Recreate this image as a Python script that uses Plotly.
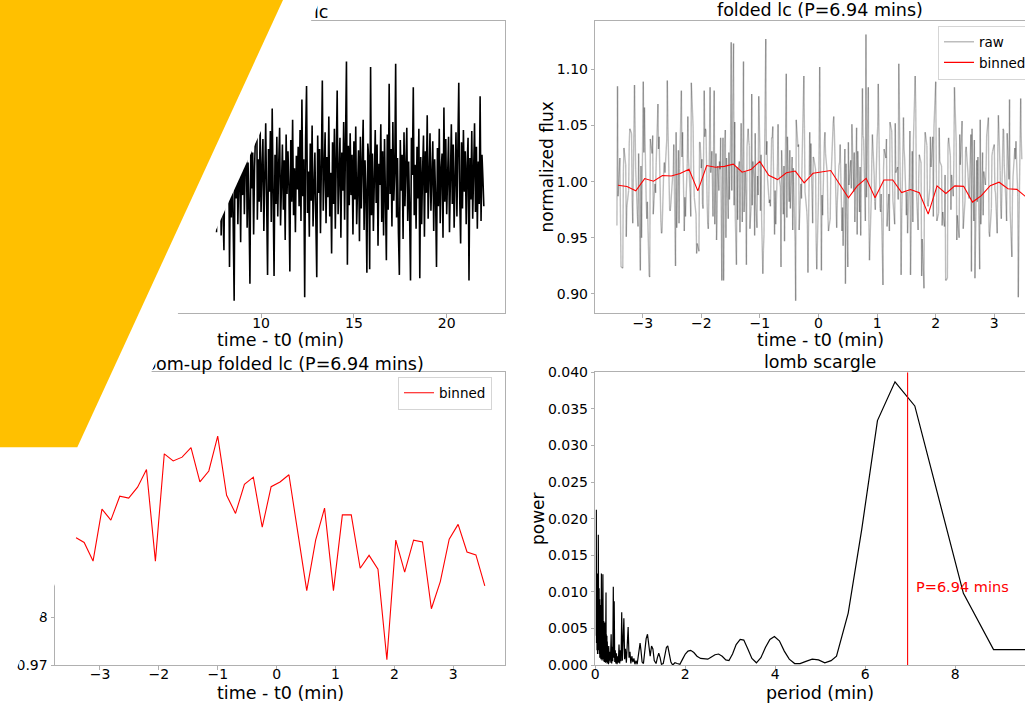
import numpy as np
import plotly.graph_objects as go

W, H = 1025, 705
FONT = "DejaVu Sans"
SPINE = "#b0b0b0"

# ---------------- data ----------------
period_best = 6.94      # min
t0_fold = 2.0           # min, fold reference time
time_step = 0.05        # min, cadence of the light curve

# raw light curve, (flux - 1) * 1000, one value per cadence starting at t = 0
raw_flux_dev = [
    12, 81, -20, 84, -31, 25, -8, -88, 34, -15, 41, 123, -74, 18, -36, 9, 47, -22, 3, -41,
    28, -82, 127, -12, 39, -47, 16, -5, -29, 96, -18, 22, -53, 31, -2, 94, -26, 44, -37, 11,
    -14, -79, 36, 7, -33, 52, -21, 15, -44, 29, -76, 19, -9, 48, -27, 83, -35, 84, -16, 6,
    38, -24, -92, 21, -11, 45, -38, 13, -19, 57, -30, 4, 27, 94, -43, 17, -95, 32, -6, 40,
    89, -28, 14, -40, -86, 23, -13, 35, -50, 54, -17, 8, 42, -35, 19, -78, 26, -3, 57, -24,
    33, -46, 10, 47, -20, 2, -67, 30, -12, 74, -39, 21, -77, 15, -8, 43, 86, -31, -79, 89,
    -18, -84, 25, -2, 69, -36, 12, 37, -25, 4, -75, 28, 81, -44, 16, -11, 49, -29, -62, 20,
    40, -37, 8, 31, -52, 18, -7, 46, -33, 124, -21, 13, -45, 27, -14, 36, 78, -48, 5, -26,
    -61, 24, -19, 39, -8, 51, -76, 14, -32, 28, -43, -106, 33, -15, 47, -38, 6, 22, -54, 30,
    -12, 44, -29, 9, 58, -41, 17, -23, -91, 35, -6, 26, -47, 13, 41, 131, -34, 20, -18, 49,
    -27, 11, 38, -44, 7, 52, -16, -83, 29, -9, 45, -36, 65, 3, -84, 24, -20, 40, -31, 15,
    48, -39, 6, 33, -25, 19, -52, 42, -11, 27, -4, -80, 37, -18, 55, -30, 12, -45, 23, -7,
    31, -22, 46, -35, 73, -13, 20, -103, 38, 85, -28, 9, -49, 34, -17, 50, -40, 14, 26, -33,
    -85, 41, -10, 29, -46, 17, 90, -26, 5, 44, -37, 22, -14, 58, -31, 8, -64, 35, -20, 47,
    -42, 15, 81, -29, 11, 39, -50, 26, -8, 53, -34, 18, 107, -74, 32, -21, 43, -12, 24, -47,
    36, -16, 49, -38, 7, 28, -53, 40, -24, 12, 55, -43, 19, -9, -81, 34, 21, -78, 102, -30,
    25, -44, 10, 46, -19, 33, -57, 16, -3, 51, -36, 27, -48, 38, -14, -70, 42, -25, 87, -11,
    29, -40, 53, -17, 8, 105, -32, 21, -46, -83, 37, -8, 24, -51, 44, -22, 13, 48, -35, 18,
    -27, -88, 39, 6, 84, -30, 15, -42, 31, -15, 47, -86, 22, -38, 9, 41, -49, 27, -10, 59,
    -33, 14, 43, -26, 5, 36, -44, 20, -13, -76, 30, -22, 47, -37, 11, 25, -50, 66, -18, 38,
    -29, 17, 40, -45, 8, 51, -20, 33, -41, 12, 44, -31, 22, 88, -14, -55, 35, -24, 46, -9,
    27, -38, 14, 39, -88, 21, -16, 45, -33, 10, 52, -27, 31, -42, 18, -20, 76, -35, 24, 3,
    -22,
]

# binned folded light curve
binned_phase_start = -3.42
binned_phase_step = 0.1512
binned_flux = [
    0.9968, 0.9957, 0.9918, 1.0027, 1.0004, 1.0054, 1.0050, 1.0073, 1.0110, 0.9918,
    1.0143, 1.0128, 1.0136, 1.0156, 1.0084, 1.0107, 1.0180, 1.0056, 1.0018, 1.0079,
    1.0094, 0.9989, 1.0074, 1.0084, 1.0099, 0.9976, 0.9856, 0.9962, 1.0029, 0.9856,
    1.0015, 1.0015, 0.9903, 0.9930, 0.9901, 0.9711, 0.9962, 0.9895, 0.9962, 0.9958,
    0.9818, 0.9875, 0.9964, 0.9995, 0.9937, 0.9931, 0.9866,
]

# Lomb-Scargle periodogram
ls_period = [
    0.020, 0.023, 0.026, 0.029, 0.032, 0.035, 0.038, 0.041, 0.044, 0.047,
    0.050, 0.053, 0.056, 0.059, 0.062, 0.065, 0.067, 0.070, 0.073, 0.076,
    0.079, 0.082, 0.085, 0.088, 0.091, 0.094, 0.097, 0.100, 0.103, 0.106,
    0.109, 0.112, 0.115, 0.118, 0.121, 0.124, 0.127, 0.130, 0.133, 0.136,
    0.139, 0.142, 0.145, 0.148, 0.151, 0.154, 0.157, 0.160, 0.163, 0.166,
    0.169, 0.172, 0.175, 0.178, 0.181, 0.184, 0.187, 0.190, 0.193, 0.196,
    0.199, 0.202, 0.205, 0.208, 0.211, 0.214, 0.217, 0.220, 0.223, 0.226,
    0.229, 0.232, 0.235, 0.238, 0.241, 0.244, 0.247, 0.250, 0.254, 0.258,
    0.262, 0.266, 0.270, 0.274, 0.278, 0.282, 0.286, 0.290, 0.294, 0.298,
    0.310, 0.320, 0.330, 0.340, 0.352, 0.364, 0.376, 0.388, 0.400,
    0.410, 0.420, 0.432, 0.444, 0.456, 0.470, 0.484, 0.498, 0.512, 0.527,
    0.542, 0.558, 0.572, 0.587, 0.602, 0.618, 0.635, 0.652, 0.670, 0.690,
    0.710, 0.730, 0.750, 0.770, 0.790, 0.812, 0.835, 0.858, 0.880, 0.905,
    0.930, 0.955, 0.975, 0.995, 1.015, 1.04, 1.07, 1.10, 1.13, 1.16,
    1.19, 1.22, 1.25, 1.28, 1.31, 1.35, 1.38, 1.41, 1.44, 1.47,
    1.51, 1.55, 1.58, 1.61, 1.64, 1.68, 1.72, 1.77, 1.82, 1.88,
    1.94, 2.00, 2.06, 2.12, 2.19, 2.26, 2.34, 2.42, 2.50, 2.58,
    2.66, 2.74, 2.82, 2.90, 2.97, 3.05, 3.13, 3.22, 3.30, 3.39,
    3.48, 3.58, 3.68, 3.78, 3.88, 3.98, 4.09, 4.20, 4.31, 4.43,
    4.55, 4.68, 4.82, 4.96, 5.10, 5.24, 5.36, 5.62, 5.92, 6.27,
    6.66, 7.10, 7.60, 8.18, 8.85, 9.70,
]
ls_power = [
    0.0040, 0.0212, 0.0030, 0.0150, 0.0045, 0.0110, 0.0020, 0.0125, 0.0050, 0.0090,
    0.0015, 0.0115, 0.0060, 0.0080, 0.0025, 0.0095, 0.0178, 0.0035, 0.0100, 0.0020,
    0.0085, 0.0045, 0.0105, 0.0015, 0.0075, 0.0030, 0.0090, 0.0010, 0.0070, 0.0040,
    0.0082, 0.0012, 0.0066, 0.0035, 0.0078, 0.0008, 0.0060, 0.0028, 0.0090, 0.0125,
    0.0020, 0.0072, 0.0030, 0.0065, 0.0006, 0.0058, 0.0025, 0.0070, 0.0012, 0.0085,
    0.0124, 0.0018, 0.0062, 0.0008, 0.0055, 0.0022, 0.0060, 0.0005, 0.0048, 0.0018,
    0.0052, 0.0004, 0.0045, 0.0015, 0.0058, 0.0006, 0.0040, 0.0012, 0.0050, 0.0003,
    0.0038, 0.0016, 0.0070, 0.0099, 0.0010, 0.0042, 0.0004, 0.0036, 0.0012, 0.0040,
    0.0002, 0.0032, 0.0008, 0.0028, 0.0003, 0.0024, 0.0006, 0.0020, 0.0001, 0.0026,
    0.0006, 0.0018, 0.0003, 0.0012, 0.0042, 0.0002, 0.0025, 0.0005, 0.0107,
    0.0010, 0.0087, 0.0004, 0.0020, 0.0002, 0.0016, 0.0001, 0.0012, 0.0003, 0.0028,
    0.0002, 0.0020, 0.0005, 0.0072, 0.0006, 0.0035, 0.0064, 0.0008, 0.0022, 0.0003,
    0.0030, 0.0052, 0.0010, 0.0018, 0.0002, 0.0012, 0.0004, 0.0009, 0.0001, 0.0006,
    0.0001, 0.0015, 0.0027, 0.0030, 0.0020, 0.0004, 0.0002, 0.0018, 0.0036, 0.0042,
    0.0030, 0.0012, 0.0026, 0.0022, 0.0006, 0.0002, 0.0010, 0.0016, 0.0010, 0.0001,
    0.0002, 0.0014, 0.0024, 0.0026, 0.0018, 0.0004, 0.0000, 0.0003, 0.0002, 0.0001,
    0.0008, 0.0015, 0.0019, 0.0020, 0.0017, 0.0012, 0.0009, 0.0008, 0.0008, 0.0011,
    0.0014, 0.0015, 0.0012, 0.0007, 0.0006, 0.0015, 0.0028, 0.0035, 0.0034, 0.0022,
    0.0009, 0.0003, 0.0010, 0.0024, 0.0035, 0.0039, 0.0033, 0.0019, 0.0008, 0.0002,
    0.0002, 0.0005, 0.0008, 0.0007, 0.0003, 0.0006, 0.0012, 0.0071, 0.0185, 0.0334,
    0.0387, 0.0354, 0.0236, 0.0098, 0.0021, 0.0021,
]

# ---------------- derived ----------------
time_min = np.arange(len(raw_flux_dev)) * time_step
raw_flux = 1.0 + np.array(raw_flux_dev, dtype=float) / 1000.0
phase = ((time_min - t0_fold + period_best / 2) % period_best) - period_best / 2
order = np.argsort(phase)
ph_s = phase[order]
fl_s = raw_flux[order]
binned_phase = binned_phase_start + binned_phase_step * np.arange(len(binned_flux))


def px(x):
    return x / W


def py(y):
    return 1 - y / H


fig = go.Figure()

# top-left: raw light curve
fig.add_trace(go.Scatter(x=time_min, y=raw_flux, mode="lines", xaxis="x", yaxis="y",
                         line=dict(color="black", width=1.6), showlegend=False,
                         hoverinfo="skip"))

# top-right: folded raw, split into interleaved segment sets so overlaps darken
K = 4
n = len(ph_s)
for k in range(K):
    xs, ys = [], []
    for i in range(k, n - 1, K):
        xs += [ph_s[i], ph_s[i + 1], None]
        ys += [fl_s[i], fl_s[i + 1], None]
    fig.add_trace(go.Scatter(x=xs, y=ys, mode="lines", xaxis="x2", yaxis="y2",
                             line=dict(color="rgba(0,0,0,0.26)", width=1.4),
                             name="raw", showlegend=(k == 0), legend="legend",
                             hoverinfo="skip"))
fig.add_trace(go.Scatter(x=binned_phase, y=binned_flux, mode="lines", xaxis="x2", yaxis="y2",
                         line=dict(color="red", width=1.1), name="binned", legend="legend"))

# bottom-left: zoomed binned
fig.add_trace(go.Scatter(x=binned_phase, y=binned_flux, mode="lines", xaxis="x3", yaxis="y3",
                         line=dict(color="red", width=1.1), name="binned", legend="legend2"))

# bottom-right: periodogram
fig.add_trace(go.Scatter(x=ls_period, y=ls_power, mode="lines", xaxis="x4", yaxis="y4",
                         line=dict(color="black", width=1.2), showlegend=False))
fig.add_trace(go.Scatter(x=[period_best, period_best], y=[0, 0.04], mode="lines",
                         xaxis="x4", yaxis="y4", line=dict(color="red", width=1.1),
                         showlegend=False))


def axis(domain, rng, dtick, mirror, anchor, fmt=None, tick0=0, standoff=0):
    d = dict(domain=domain, range=rng, dtick=dtick, tick0=tick0, showline=True,
             linecolor=SPINE, linewidth=1, mirror=mirror, ticks="outside", ticklen=3.5,
             tickwidth=1, tickcolor=SPINE,
             tickfont=dict(size=14, color="black", family=FONT),
             showgrid=False, zeroline=False, anchor=anchor, fixedrange=True,
             automargin=False, ticklabelstandoff=standoff)
    if fmt:
        d["tickformat"] = fmt
    return d


xl = [px(55), px(505)]
xr = [px(595.3), 1.0]
yt = [py(313.3), py(21.3)]
yb = [py(665), py(372.3)]

LEGEND_STYLE = dict(xanchor="left", yanchor="top", bgcolor="rgba(255,255,255,0.8)",
                    bordercolor="#d5d5d5", borderwidth=1,
                    font=dict(size=13.5, family=FONT, color="black"), itemwidth=30,
                    tracegroupgap=0)

fig.update_layout(
    template="none",
    width=W, height=H,
    margin=dict(l=0, r=0, t=0, b=0, pad=0, autoexpand=False),
    paper_bgcolor="white", plot_bgcolor="white",
    font=dict(family=FONT, color="black"),
    xaxis=axis(xl, [-1.1, 23.14], 5, True, "y", standoff=-7),
    yaxis=axis(yt, [0.8828, 1.1427], 0.05, True, "x", ".2f"),
    xaxis2=axis(xr, [-3.809, 3.524], 1, True, "y2", standoff=-7),
    yaxis2=axis(yt, [0.8828, 1.1427], 0.05, False, "x2", ".2f"),
    xaxis3=axis(xl, [-3.764, 3.878], 1, True, "y3", standoff=-7),
    yaxis3=axis(yb, [0.97, 1.0314], 0.01, True, "x3", ".2f"),
    xaxis4=axis(xr, [0, 9.549], 2, True, "y4", standoff=-7),
    yaxis4=axis(yb, [0, 0.04], 0.005, False, "x4", ".3f"),
    legend=dict(x=px(938), y=py(25.5), **LEGEND_STYLE),
    legend2=dict(x=px(398), y=py(376.5), **LEGEND_STYLE),
)


def ann(text, cx, cy, size, angle=0):
    return dict(text=text, x=px(cx), y=py(cy), xref="paper", yref="paper", showarrow=False,
                xanchor="center", yanchor="middle", textangle=angle,
                font=dict(size=size, family=FONT, color="black"))


annotations = [
    ann("folded lc (P=6.94 mins)", 820, 10.5, 17.5),
    ann("lomb scargle", 820, 362, 17.5),
    ann("time - t0 (min)", 280, 340, 17.5),
    ann("time - t0 (min)", 820, 340, 17.5),
    ann("time - t0 (min)", 280, 693, 17.5),
    ann("period (min)", 820, 693, 17.5),
    ann("normalized flux", 547.3, 167.3, 17, -90),
    ann("power", 537.3, 518.7, 17, -90),
    dict(text="P=6.94 mins", x=period_best + 0.14, y=0.0107, xref="x4", yref="y4",
         showarrow=False, xanchor="left", yanchor="middle",
         font=dict(size=14.5, family=FONT, color="red")),
]
fig.update_layout(annotations=annotations)


def label_shape(text, cx, cy, size, angle=0, w=340, h=30):
    return dict(type="rect", xref="paper", yref="paper",
                x0=px(cx - w / 2), x1=px(cx + w / 2), y0=py(cy + h / 2), y1=py(cy - h / 2),
                line=dict(width=0), fillcolor="rgba(0,0,0,0)", layer="above",
                label=dict(text=text, textposition="middle center", textangle=angle,
                           font=dict(size=size, family=FONT, color="black")))


shapes = [
    label_shape("unfolded lc", 280, 10.5, 17.5),
    label_shape("zoom-up folded lc (P=6.94 mins)", 280, 362, 17.5),
    label_shape("normalized flux", 12, 167.3, 17, -90, w=24, h=200),
    label_shape("normalized flux", 12, 518.7, 17, -90, w=24, h=200),
    # white band and yellow overlay
    dict(type="path", xref="paper", yref="paper", layer="above",
         path=f"M {px(0)},{py(0)} L {px(320.5)},{py(0)} L {px(0)},{py(705)} Z",
         fillcolor="white", line=dict(width=0)),
    dict(type="path", xref="paper", yref="paper", layer="above",
         path=(f"M {px(0)},{py(0)} L {px(283)},{py(0)} L {px(77.3)},{py(447.3)} "
               f"L {px(0)},{py(447.3)} Z"),
         fillcolor="#FFC000", line=dict(width=0)),
]
fig.update_layout(shapes=shapes)

fig.write_html(
    "out.html",
    post_script="document.body.style.margin='0px';document.body.style.overflow='hidden';",
)
